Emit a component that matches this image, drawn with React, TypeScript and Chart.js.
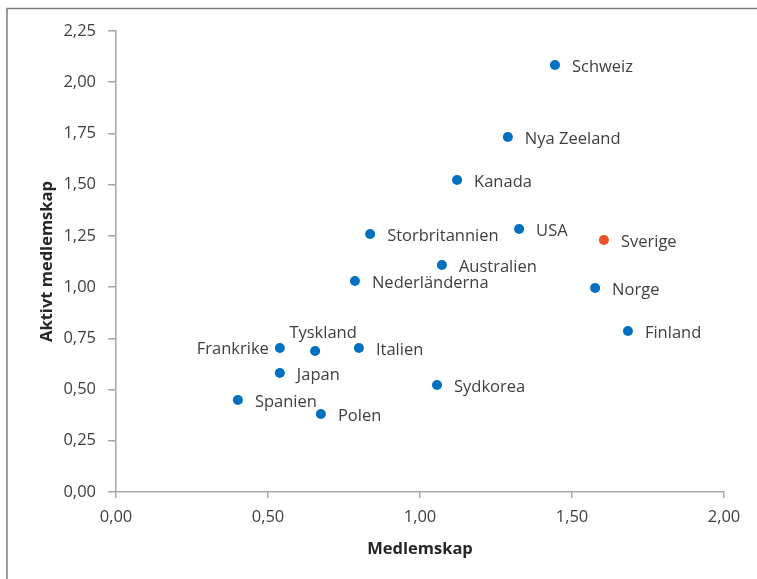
import React, { useEffect, useRef } from "react";
import { Chart, registerables } from "chart.js";

Chart.register(...registerables);

const countries = [
  "Schweiz", "Nya Zeeland", "Kanada", "USA", "Sverige", "Storbritannien",
  "Australien", "Nederländerna", "Norge", "Finland", "Frankrike", "Tyskland",
  "Italien", "Japan", "Sydkorea", "Spanien", "Polen",
];
const medlemskap = [
  1.444, 1.289, 1.122, 1.326, 1.605, 0.836,
  1.072, 0.786, 1.576, 1.684, 0.539, 0.655,
  0.799, 0.539, 1.056, 0.401, 0.674,
];
const aktivtMedlemskap = [
  2.084, 1.733, 1.523, 1.284, 1.230, 1.259,
  1.108, 1.030, 0.996, 0.786, 0.703, 0.688,
  0.703, 0.581, 0.522, 0.449, 0.381,
];
const labelSide = [
  "right", "right", "right", "right", "right", "right",
  "right", "right", "right", "right", "left", "top",
  "right", "right", "right", "right", "right",
];
const highlighted = "Sverige";

const BLUE = "#0070C0";
const ORANGE = "#F0512B";
const FONT = "'Open Sans', Lato, sans-serif";
const SIZE = 16.5;

const fmt = (v: number) => v.toFixed(2).replace(".", ",");

const framePlugin = {
  id: "frame",
  beforeDraw(chart: any) {
    const ctx = chart.ctx;
    ctx.save();
    ctx.strokeStyle = "#7f7f7f";
    ctx.lineWidth = 1.5;
    ctx.beginPath();
    ctx.moveTo(7, chart.height);
    ctx.lineTo(7, 8.5);
    ctx.lineTo(chart.width, 8.5);
    ctx.stroke();
    ctx.restore();
  },
};

const labelPlugin = {
  id: "pointLabels",
  afterDatasetsDraw(chart: any) {
    const ctx = chart.ctx;
    const meta = chart.getDatasetMeta(0);
    ctx.save();
    ctx.font = `${SIZE}px ${FONT}`;
    ctx.fillStyle = "#404040";
    ctx.textBaseline = "middle";
    meta.data.forEach((el: any, i: number) => {
      const side = labelSide[i];
      const txt = countries[i];
      if (side === "left") {
        ctx.textAlign = "right";
        ctx.fillText(txt, el.x - 11, el.y + 1);
      } else if (side === "top") {
        ctx.textAlign = "center";
        ctx.fillText(txt, el.x + 8, el.y - 18);
      } else {
        ctx.textAlign = "left";
        ctx.fillText(txt, el.x + 17, el.y + 2);
      }
    });
    ctx.restore();
  },
};

export default function App() {
  const ref = useRef<HTMLCanvasElement | null>(null);
  useEffect(() => {
    if (!ref.current) return;
    const points = medlemskap.map((x, i) => ({ x, y: aktivtMedlemskap[i] }));
    const colors = countries.map((c) => (c === highlighted ? ORANGE : BLUE));
    const chart = new Chart(ref.current, {
      type: "scatter",
      data: {
        datasets: [
          {
            data: points,
            backgroundColor: colors,
            borderColor: colors,
            pointRadius: 5,
            pointHoverRadius: 5,
            borderWidth: 0,
          },
        ],
      },
      options: {
        animation: false,
        responsive: false,
        devicePixelRatio: 1,
        layout: { padding: { left: 0, top: 31, right: 33, bottom: 0 } },
        plugins: { legend: { display: false }, tooltip: { enabled: false } },
        scales: {
          x: {
            type: "linear",
            min: 0,
            max: 2,
            afterFit: (s: any) => { s.height = 87; },
            ticks: {
              stepSize: 0.5,
              callback: (v: any) => fmt(Number(v)),
              color: "#404040",
              font: { family: FONT, size: SIZE },
              padding: 9,
              maxRotation: 0,
            },
            grid: {
              display: true,
              drawOnChartArea: false,
              drawTicks: true,
              tickLength: 6,
              color: "#a6a6a6",
              lineWidth: 1.5,
            },
            border: { display: true, color: "#a6a6a6", width: 1.5 },
            title: {
              display: true,
              text: "Medlemskap",
              color: "#262626",
              font: { family: FONT, size: SIZE, weight: "bold" },
              padding: { top: 0, bottom: 20 },
            },
          },
          y: {
            type: "linear",
            min: 0,
            max: 2.25,
            afterFit: (s: any) => { s.width = 116; },
            ticks: {
              stepSize: 0.25,
              callback: (v: any) => fmt(Number(v)),
              color: "#404040",
              font: { family: FONT, size: SIZE },
              padding: 12,
            },
            grid: {
              display: true,
              drawOnChartArea: false,
              drawTicks: true,
              tickLength: 8,
              color: "#a6a6a6",
              lineWidth: 1.5,
            },
            border: { display: true, color: "#a6a6a6", width: 1.5 },
            title: {
              display: true,
              text: "Aktivt medlemskap",
              color: "#262626",
              font: { family: FONT, size: SIZE, weight: "bold" },
              padding: { top: 37, bottom: 0 },
            },
          },
        },
      },
      plugins: [framePlugin, labelPlugin],
    });
    return () => chart.destroy();
  }, []);
  return (
    <div style={{ position: "fixed", left: 0, top: 0, width: 757, height: 579, background: "#fff" }}>
      <canvas ref={ref} width={757} height={579} style={{ display: "block" }} />
    </div>
  );
}
